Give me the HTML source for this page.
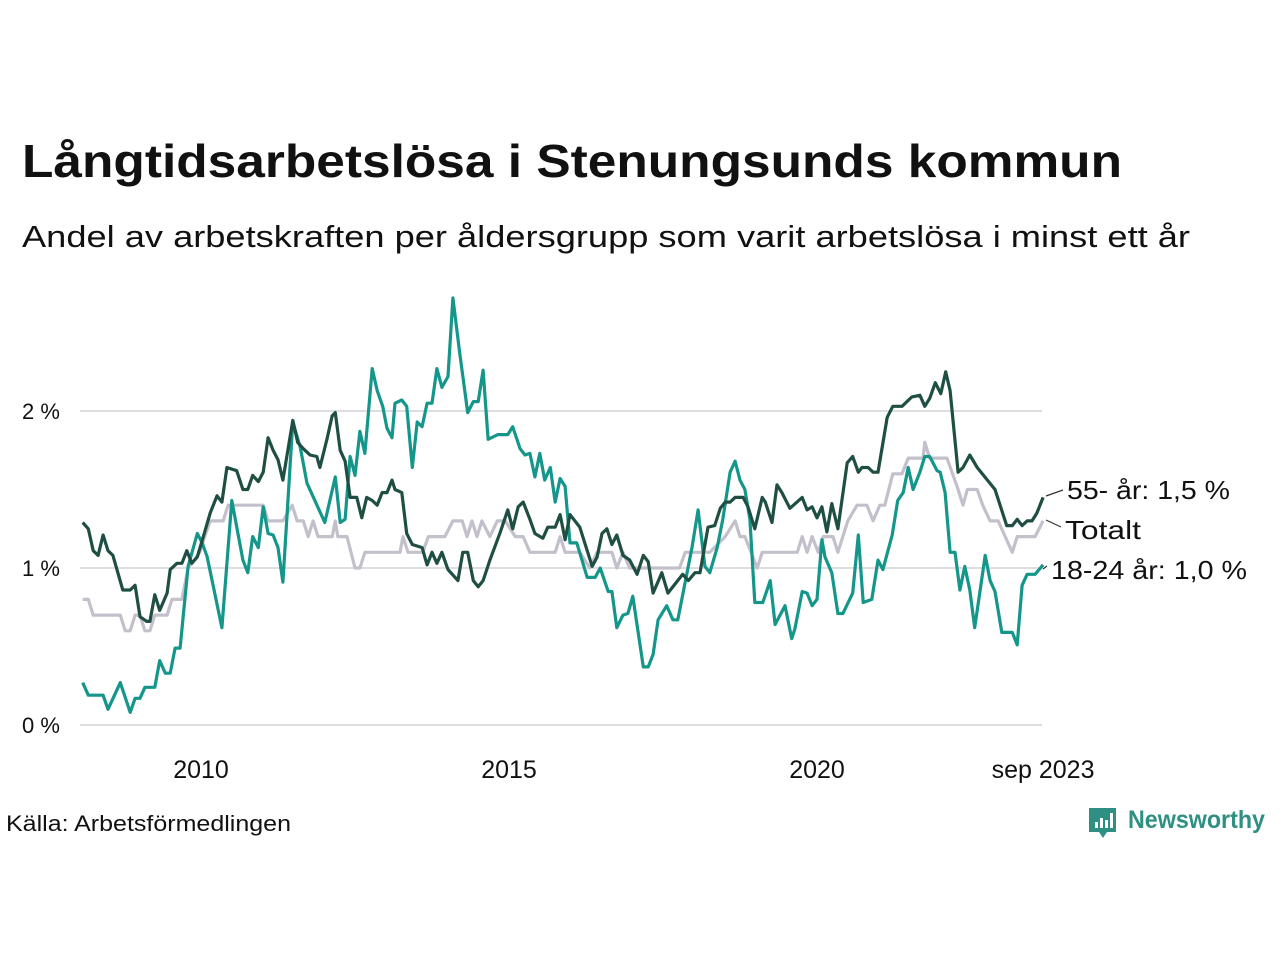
<!DOCTYPE html>
<html><head><meta charset="utf-8"><style>
html,body{margin:0;padding:0;background:#fff;width:1280px;height:960px;overflow:hidden}
svg{display:block}
text{font-family:"Liberation Sans","DejaVu Sans",sans-serif;fill:#111}
</style></head><body>
<svg id="chart" width="1280" height="960" viewBox="0 0 1280 960" xmlns="http://www.w3.org/2000/svg">
<text x="22" y="177" font-size="46" font-weight="bold" textLength="1100" lengthAdjust="spacingAndGlyphs">Långtidsarbetslösa i Stenungsunds kommun</text>
<text x="22" y="247" font-size="31" textLength="1168" lengthAdjust="spacingAndGlyphs">Andel av arbetskraften per åldersgrupp som varit arbetslösa i minst ett år</text>
<g id="grid"></g>
<g id="series"></g>
<g id="labels"></g>
<text x="6" y="831" font-size="22" textLength="285" lengthAdjust="spacingAndGlyphs">Källa: Arbetsförmedlingen</text>
<g>
<path d="M1089 808 h27 v24 h-9 l-4 6 l-4 -6 h-10 z" fill="#2e8f83"/>
<rect x="1095" y="822" width="3" height="6" fill="#fff"/><rect x="1100" y="818" width="3" height="10" fill="#fff"/><rect x="1105" y="820" width="3" height="8" fill="#fff"/><rect x="1110" y="813" width="3" height="15" fill="#fff"/>
<text x="1128" y="828" font-size="25" font-weight="bold" textLength="137" lengthAdjust="spacingAndGlyphs" style="fill:#2e8f83">Newsworthy</text>
</g>
</svg>
<script>
const yTicks=[0,1,2];
const yTickLabels=["0 %","1 %","2 %"];
const xTicks=[2010,2015,2020,2023.67];
const xTickLabels=["2010","2015","2020","sep 2023"];

const oldYears=[2008.08,2008.17,2008.25,2008.33,2008.41,2008.49,2008.57,2008.73,2008.85,2008.93,2009.01,2009.12,2009.17,2009.25,2009.33,2009.45,2009.50,2009.61,2009.69,2009.77,2009.85,2009.94,2010.06,2010.15,2010.26,2010.34,2010.42,2010.58,2010.68,2010.76,2010.84,2010.93,2011.01,2011.09,2011.17,2011.25,2011.33,2011.49,2011.57,2011.66,2011.77,2011.88,2011.93,2012.05,2012.13,2012.18,2012.26,2012.34,2012.42,2012.53,2012.61,2012.69,2012.78,2012.86,2012.94,2013.02,2013.10,2013.15,2013.26,2013.34,2013.43,2013.59,2013.67,2013.75,2013.83,2013.91,2014.01,2014.17,2014.25,2014.33,2014.42,2014.50,2014.58,2014.69,2014.85,2014.98,2015.06,2015.15,2015.23,2015.34,2015.42,2015.55,2015.63,2015.75,2015.83,2015.91,2015.99,2016.15,2016.27,2016.35,2016.43,2016.51,2016.59,2016.67,2016.75,2016.85,2016.96,2017.08,2017.18,2017.26,2017.34,2017.48,2017.58,2017.82,2017.91,2018.02,2018.10,2018.23,2018.34,2018.43,2018.51,2018.59,2018.67,2018.80,2018.88,2018.99,2019.11,2019.16,2019.27,2019.35,2019.43,2019.56,2019.76,2019.84,2019.92,2020.00,2020.08,2020.16,2020.24,2020.34,2020.49,2020.58,2020.67,2020.73,2020.83,2020.91,2020.99,2021.14,2021.23,2021.38,2021.54,2021.67,2021.75,2021.83,2021.92,2022.01,2022.09,2022.16,2022.29,2022.37,2022.48,2022.60,2022.89,2023.08,2023.17,2023.25,2023.33,2023.41,2023.49,2023.57,2023.67];
const oldValues=[1.29,1.25,1.11,1.08,1.21,1.11,1.08,0.86,0.86,0.89,0.69,0.66,0.66,0.83,0.73,0.84,0.99,1.03,1.03,1.11,1.03,1.07,1.23,1.35,1.46,1.42,1.64,1.62,1.50,1.50,1.59,1.55,1.61,1.83,1.75,1.69,1.56,1.94,1.80,1.76,1.72,1.71,1.64,1.83,1.97,1.99,1.75,1.68,1.45,1.45,1.32,1.45,1.43,1.40,1.48,1.48,1.56,1.50,1.48,1.22,1.15,1.13,1.02,1.10,1.03,1.10,0.99,0.92,1.10,1.10,0.92,0.88,0.92,1.05,1.22,1.37,1.25,1.39,1.42,1.31,1.22,1.19,1.26,1.26,1.34,1.18,1.34,1.26,1.11,1.01,1.07,1.22,1.25,1.15,1.21,1.08,1.05,0.96,1.08,1.04,0.84,0.97,0.84,0.96,0.92,0.97,0.97,1.26,1.27,1.38,1.42,1.42,1.45,1.45,1.39,1.25,1.45,1.42,1.29,1.53,1.48,1.38,1.45,1.37,1.39,1.32,1.39,1.23,1.41,1.25,1.67,1.71,1.61,1.64,1.64,1.61,1.61,1.96,2.03,2.03,2.09,2.10,2.03,2.08,2.18,2.11,2.25,2.13,1.61,1.64,1.72,1.64,1.50,1.27,1.27,1.31,1.27,1.30,1.30,1.35,1.45];

const totYears=[2008.08,2008.17,2008.25,2008.69,2008.77,2008.85,2008.93,2009.01,2009.09,2009.17,2009.25,2009.45,2009.53,2009.69,2009.79,2009.98,2010.06,2010.15,2010.36,2010.44,2011.01,2011.09,2011.33,2011.48,2011.56,2011.66,2011.74,2011.82,2011.90,2012.13,2012.18,2012.22,2012.37,2012.50,2012.58,2012.66,2013.23,2013.28,2013.36,2013.60,2013.69,2013.96,2014.09,2014.24,2014.32,2014.40,2014.48,2014.56,2014.69,2014.81,2014.94,2015.10,2015.23,2015.34,2015.75,2015.83,2015.91,2016.15,2016.31,2016.43,2016.67,2016.75,2016.85,2016.96,2017.77,2017.86,2018.18,2018.26,2018.51,2018.67,2018.75,2018.83,2019.03,2019.11,2019.68,2019.76,2019.84,2019.92,2020.02,2020.10,2020.26,2020.34,2020.50,2020.65,2020.81,2020.91,2021.02,2021.10,2021.23,2021.38,2021.48,2021.72,2021.75,2021.83,2022.11,2022.29,2022.37,2022.44,2022.60,2022.69,2022.81,2022.94,2023.17,2023.25,2023.54,2023.67];
const totValues=[0.80,0.80,0.70,0.70,0.60,0.60,0.70,0.70,0.60,0.60,0.70,0.70,0.80,0.80,1.00,1.10,1.20,1.30,1.30,1.40,1.40,1.30,1.30,1.40,1.30,1.30,1.20,1.30,1.20,1.20,1.30,1.20,1.20,1.00,1.00,1.10,1.10,1.20,1.10,1.10,1.20,1.20,1.30,1.30,1.20,1.30,1.20,1.30,1.20,1.30,1.30,1.20,1.20,1.10,1.10,1.20,1.10,1.10,1.00,1.10,1.10,1.00,1.10,1.00,1.00,1.10,1.10,1.10,1.20,1.30,1.20,1.20,1.00,1.10,1.10,1.20,1.10,1.20,1.10,1.20,1.20,1.10,1.30,1.40,1.40,1.30,1.40,1.40,1.60,1.60,1.70,1.70,1.80,1.70,1.70,1.50,1.40,1.50,1.50,1.40,1.30,1.30,1.10,1.20,1.20,1.30];

const youngYears=[2008.08,2008.17,2008.41,2008.49,2008.69,2008.85,2008.93,2009.01,2009.09,2009.25,2009.33,2009.42,2009.50,2009.58,2009.66,2009.79,2009.94,2010.02,2010.10,2010.34,2010.50,2010.68,2010.76,2010.84,2010.93,2011.01,2011.09,2011.17,2011.25,2011.33,2011.49,2011.61,2011.72,2012.01,2012.18,2012.26,2012.34,2012.42,2012.50,2012.58,2012.66,2012.78,2012.86,2012.95,2013.02,2013.10,2013.15,2013.26,2013.34,2013.43,2013.51,2013.59,2013.67,2013.75,2013.83,2013.91,2014.01,2014.09,2014.20,2014.33,2014.42,2014.50,2014.58,2014.66,2014.82,2014.98,2015.06,2015.18,2015.26,2015.34,2015.42,2015.50,2015.58,2015.67,2015.75,2015.83,2015.91,2015.99,2016.10,2016.27,2016.40,2016.48,2016.61,2016.67,2016.75,2016.85,2016.93,2017.01,2017.18,2017.26,2017.34,2017.42,2017.56,2017.66,2017.74,2017.86,2017.97,2018.07,2018.18,2018.26,2018.38,2018.47,2018.59,2018.67,2018.75,2018.83,2018.91,2018.99,2019.12,2019.24,2019.32,2019.48,2019.59,2019.64,2019.76,2019.84,2019.92,2020.00,2020.08,2020.13,2020.24,2020.34,2020.42,2020.58,2020.67,2020.75,2020.89,2020.99,2021.07,2021.22,2021.31,2021.40,2021.48,2021.56,2021.67,2021.75,2021.83,2021.95,2022.00,2022.08,2022.16,2022.24,2022.32,2022.40,2022.48,2022.56,2022.73,2022.81,2022.89,2023.00,2023.17,2023.25,2023.33,2023.41,2023.54,2023.67];
const youngValues=[0.27,0.19,0.19,0.10,0.27,0.08,0.17,0.17,0.24,0.24,0.41,0.33,0.33,0.49,0.49,1.01,1.22,1.16,1.07,0.62,1.43,1.05,0.97,1.20,1.13,1.39,1.22,1.21,1.13,0.91,1.93,1.77,1.54,1.29,1.58,1.29,1.31,1.71,1.59,1.87,1.73,2.27,2.13,2.03,1.89,1.83,2.05,2.07,2.03,1.64,1.93,1.90,2.05,2.05,2.27,2.15,2.22,2.72,2.37,1.99,2.06,2.06,2.26,1.82,1.85,1.85,1.90,1.76,1.72,1.73,1.58,1.73,1.56,1.64,1.42,1.57,1.52,1.16,1.16,0.94,0.94,1.00,0.85,0.85,0.62,0.70,0.71,0.82,0.37,0.37,0.45,0.67,0.76,0.67,0.67,0.91,1.13,1.37,1.01,0.97,1.13,1.31,1.61,1.68,1.56,1.50,1.31,0.78,0.78,0.92,0.64,0.76,0.55,0.61,0.85,0.84,0.76,0.80,1.18,1.07,0.97,0.71,0.71,0.84,1.21,0.78,0.80,1.05,0.99,1.21,1.43,1.48,1.64,1.50,1.61,1.71,1.71,1.62,1.61,1.48,1.10,1.10,0.86,1.01,0.86,0.62,1.08,0.92,0.85,0.59,0.59,0.51,0.89,0.96,0.96,1.02];

const NS="http://www.w3.org/2000/svg";
const xScale=t=>201+(t-2010)*61.6;
const yScale=v=>725-v*157;
function mk(tag,attrs,parent){const e=document.createElementNS(NS,tag);for(const k in attrs)e.setAttribute(k,attrs[k]);parent.appendChild(e);return e;}
const grid=document.getElementById('grid');
yTicks.forEach((v,i)=>{
  const l=mk('line',{x1:80,x2:1042,y1:yScale(v),y2:yScale(v),stroke:'#dedde2','stroke-width':2},grid);
  
  
  const t=mk('text',{x:22,y:yScale(v)+8,'font-size':22},grid);
  t.textContent=yTickLabels[i];
  
  
});
xTicks.forEach((v,i)=>{
  const t=mk('text',{x:xScale(v),y:778,'font-size':25,'text-anchor':'middle'},grid);
  t.textContent=xTickLabels[i];
  
  
});
const sg=document.getElementById('series');
function line(xs,vs,color,name){
  const d=xs.map((t,i)=>(i?'L':'M')+xScale(t).toFixed(1)+' '+yScale(vs[i]).toFixed(1)).join(' ');
  const p=mk('path',{d:d,fill:'none',stroke:color,'stroke-width':3.2,'stroke-linejoin':'round'},sg);
  
  
}
line(totYears,totValues,'#c3c0cb','line-totalt');
line(youngYears,youngValues,'#15968a','line-18-24');
line(oldYears,oldValues,'#1f4f43','line-55-plus');
const lg=document.getElementById('labels');
function lab(txt,x,y,w,lx1,ly1,lx2,ly2,name){
  mk('line',{x1:lx1,y1:ly1,x2:lx2,y2:ly2,stroke:'#333','stroke-width':1.2},lg);
  const t=mk('text',{x:x,y:y,'font-size':26,textLength:w,lengthAdjust:'spacingAndGlyphs'},lg);
  t.textContent=txt;
  
  
}
lab('55- år: 1,5 %',1067,499,163,1046,496,1063,490,'label-55-plus');
lab('Totalt',1065,539,76,1046,520,1061,527,'label-totalt');
lab('18-24 år: 1,0 %',1051,579,196,1043,569,1047,566,'label-18-24');
</script>
</body></html>
